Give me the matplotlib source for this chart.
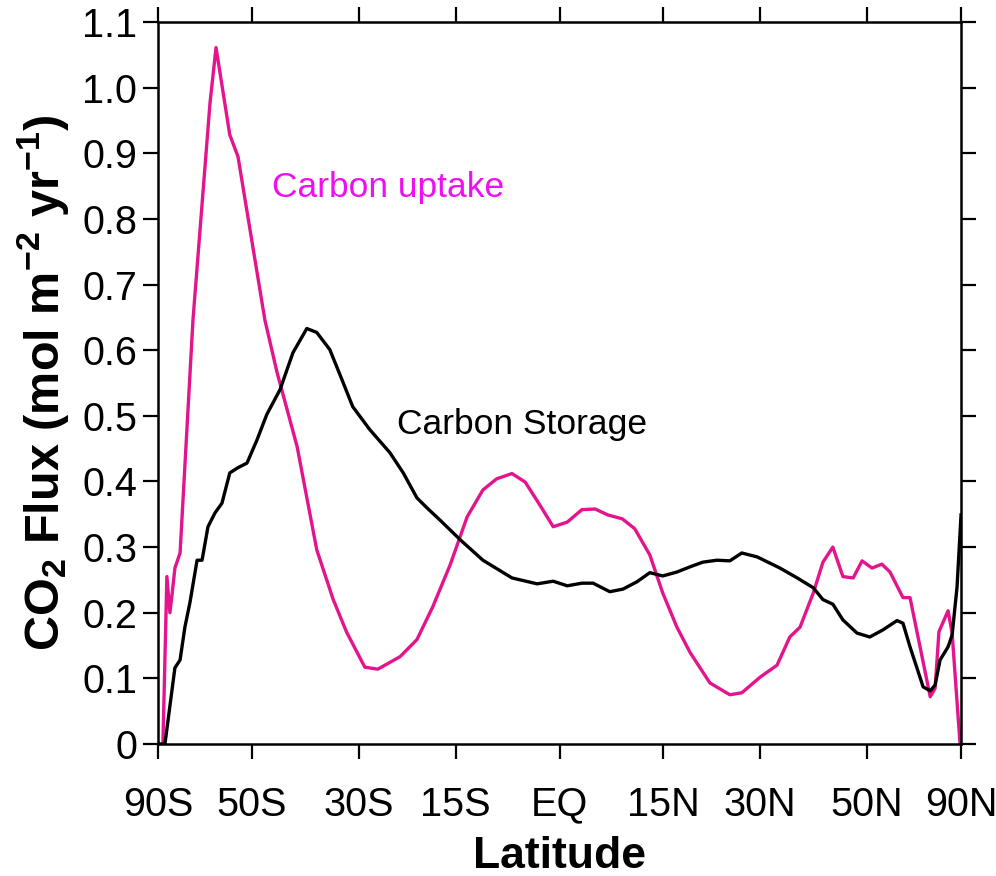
import numpy as np
import matplotlib
matplotlib.use('agg')
import matplotlib.pyplot as plt

plt.rcParams['font.family'] = ['Liberation Sans', 'DejaVu Sans']
plt.rcParams['mathtext.fontset'] = 'custom'
plt.rcParams['mathtext.rm'] = 'Liberation Sans:bold'
plt.rcParams['mathtext.it'] = 'Liberation Sans:bold'
plt.rcParams['mathtext.bf'] = 'Liberation Sans:bold'

# latitude (deg) and flux values
uptake_lat = [-81.0, -77.9, -76.0, -74.8, -73.3, -70.9, -65.9, -60.5, -58.8, -55.2,
              -53.2, -47.2, -44.7, -40.8, -37.2, -34.3, -32.0, -29.0, -26.9, -23.4,
              -20.8, -18.4, -15.8, -13.3, -11.0, -9.0, -6.8, -4.9, -2.8, -0.9,
              1.1, 3.2, 5.1, 6.9, 9.0, 10.8, 13.0, 14.9, 17.0, 19.0,
              22.0, 25.1, 27.0, 30.0, 32.8, 35.0, 36.8, 39.2, 41.0, 42.9,
              44.9, 47.0, 48.9, 51.1, 53.4, 55.4, 58.8, 60.8, 67.4, 69.3,
              70.9, 75.4, 77.9, 86.0]
uptake_val = [0.0, 0.255, 0.200, 0.227, 0.268, 0.291, 0.646, 0.977, 1.061, 0.928,
              0.895, 0.646, 0.566, 0.453, 0.296, 0.220, 0.170, 0.117, 0.114, 0.133,
              0.159, 0.209, 0.273, 0.346, 0.387, 0.404, 0.412, 0.399, 0.364, 0.331,
              0.338, 0.357, 0.358, 0.349, 0.343, 0.328, 0.288, 0.230, 0.178, 0.139,
              0.093, 0.075, 0.078, 0.102, 0.120, 0.163, 0.178, 0.230, 0.277, 0.300,
              0.255, 0.253, 0.279, 0.268, 0.274, 0.262, 0.223, 0.223, 0.072, 0.085,
              0.171, 0.203, 0.169, 0.0]

storage_lat = [-90.0, -79.3, -73.3, -70.9, -68.9, -67.0, -64.5, -62.9, -61.1, -59.1,
               -57.2, -55.2, -53.2, -51.1, -48.9, -46.8, -44.1, -41.6, -39.0, -37.2,
               -34.9, -32.8, -31.0, -28.2, -25.0, -22.9, -20.8, -19.3, -17.3, -16.9,
               -14.3, -11.0, -6.8, -3.2, -0.9, 1.1, 3.2, 4.8, 7.2, 9.1,
               11.1, 13.0, 14.9, 17.0, 19.0, 20.9, 23.1, 25.1, 27.0, 29.5,
               33.3, 36.3, 39.2, 41.0, 42.9, 44.9, 47.8, 50.6, 53.7, 57.2,
               58.8, 60.8, 64.9, 67.4, 69.3, 71.4, 75.4, 77.9, 81.9, 90.0]
storage_val = [0.0, 0.0, 0.116, 0.128, 0.178, 0.215, 0.280, 0.280, 0.331, 0.352,
               0.367, 0.413, 0.421, 0.428, 0.463, 0.502, 0.540, 0.596, 0.633, 0.627,
               0.601, 0.555, 0.514, 0.479, 0.444, 0.413, 0.375, 0.360, 0.341, 0.337,
               0.311, 0.280, 0.253, 0.244, 0.248, 0.241, 0.245, 0.245, 0.232, 0.236,
               0.247, 0.261, 0.256, 0.262, 0.270, 0.277, 0.280, 0.279, 0.291, 0.285,
               0.268, 0.253, 0.238, 0.220, 0.213, 0.189, 0.169, 0.163, 0.174, 0.188,
               0.184, 0.148, 0.087, 0.081, 0.090, 0.128, 0.148, 0.166, 0.239, 0.349]

lat_ticks = [-90, -50, -30, -15, 0, 15, 30, 50, 90]
lat_labels = ['90S', '50S', '30S', '15S', 'EQ', '15N', '30N', '50N', '90N']
y_ticks = [0, 0.1, 0.2, 0.3, 0.4, 0.5, 0.6, 0.7, 0.8, 0.9, 1.0, 1.1]
y_labels = ['0'] + ['%.1f' % v for v in y_ticks[1:]]


def fwd(x):
    return np.sin(np.radians(x))


def inv(s):
    return np.degrees(np.arcsin(np.clip(s, -1, 1)))


fig = plt.figure(figsize=(9.96, 8.76), dpi=100)
ax = fig.add_axes([0.1586, 0.1507, 0.8063, 0.8242])
ax.set_xscale('function', functions=(fwd, inv))

ax.plot(uptake_lat, uptake_val, color='#e3148c', lw=2.4)
ax.plot(storage_lat, storage_val, color='black', lw=2.4)

ax.set_xlim(-90, 90)
ax.set_ylim(0, 1.1)
ax.set_xticks(lat_ticks)
ax.set_xticklabels(lat_labels)
ax.set_yticks(y_ticks)
ax.set_yticklabels(y_labels)
ax.minorticks_off()

ax.tick_params(direction='out', length=11, width=1.6, labelsize=28.5,
               top=True, right=True, labeltop=False, labelright=False)
ax.tick_params(axis='x', pad=19)
ax.tick_params(axis='y', pad=4)
for sp in ax.spines.values():
    sp.set_linewidth(1.8)

ax.set_xlabel('Latitude', fontsize=32, fontweight='bold', labelpad=9)
ax.set_ylabel(r'CO$_2$ Flux (mol m$^{-2}$ yr$^{-1}$)', fontsize=35,
              fontweight='bold', labelpad=8)

ax.text(0.142, 0.771, 'Carbon uptake', transform=ax.transAxes, color='#ee10ee',
        fontsize=25.5, va='center', ha='left')
ax.text(0.298, 0.442, 'Carbon Storage', transform=ax.transAxes, color='black',
        fontsize=25.5, va='center', ha='left')

fig.savefig('out.png', dpi=100)
